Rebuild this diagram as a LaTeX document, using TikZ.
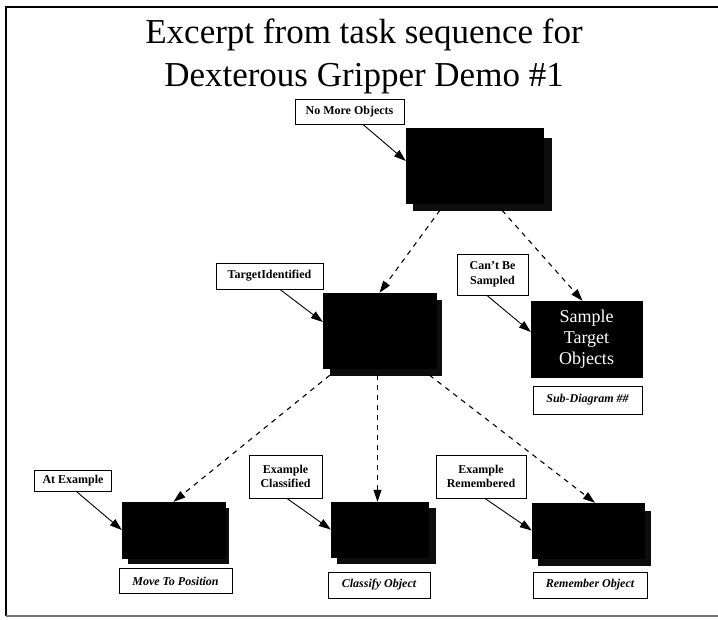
\documentclass[tikz,border=0pt]{standalone}
\usepackage{fontspec}
\setmainfont{Liberation Serif}
\usetikzlibrary{arrows.meta,calc}

\tikzset{
  task/.style={fill=black, draw=black, inner sep=0pt},
  taskback/.style={fill=black!95, draw=black!95, inner sep=0pt},
  cond/.style={draw=black, line width=0.9pt, fill=white, inner sep=0pt, align=center,
    font=\fontsize{12}{14.5}\selectfont\bfseries},
  caption/.style={draw=black, line width=0.9pt, fill=white, inner sep=0pt,
    font=\fontsize{12}{14}\selectfont\bfseries\itshape},
  trigger/.style={line width=0.9pt, -{Triangle[length=12pt,width=8pt]}},
  seq/.style={line width=1.1pt, dash pattern=on 5pt off 5pt, -{Triangle[length=12pt,width=8pt]}},
  title/.style={font=\fontsize{35}{40}\selectfont, anchor=base, inner sep=0pt}
}

\begin{document}
\begin{tikzpicture}[x=1pt, y=-1pt]
  \useasboundingbox (0,0) rectangle (718,619);

  % frame
  \draw[line width=1.8pt] (718,7) -- (6,7) -- (6,616);
  \draw[line width=1.2pt, black!55] (6,616) -- (718,616);

  % title
  \node[title] (t1) at (364,43) {Excerpt from task sequence for};
  \node[title] (t2) at (364,86) {Dexterous Gripper Demo \#1};

  % top task (stacked)
  \node[taskback, minimum width=138pt, minimum height=72pt] (topb) at (482,174) {};
  \node[task, minimum width=137pt, minimum height=75pt] (topf) at (474.5,165.5) {};

  % middle task (stacked)
  \node[taskback, minimum width=111pt, minimum height=75pt] (midb) at (385.5,337.5) {};
  \node[task, minimum width=113pt, minimum height=75pt] (midf) at (379.5,330.5) {};

  % sub-diagram task
  \node[task, minimum width=111pt, minimum height=76pt, text=white, align=center,
        font=\fontsize{18}{21}\selectfont] (sample) at (586.5,339) {Sample\\Target\\Objects};

  % bottom tasks (stacked)
  \node[taskback, minimum width=100pt, minimum height=55pt] (blb) at (178,535.5) {};
  \node[task, minimum width=103pt, minimum height=56pt] (blf) at (173.5,530) {};
  \node[taskback, minimum width=98pt, minimum height=55pt] (bmb) at (386,535.5) {};
  \node[task, minimum width=97pt, minimum height=55pt] (bmf) at (379.5,529.5) {};
  \node[taskback, minimum width=112pt, minimum height=54pt] (brb) at (594,538) {};
  \node[task, minimum width=112pt, minimum height=55pt] (brf) at (588,530.5) {};

  % condition labels
  \node[cond, minimum width=109pt, minimum height=25pt] (nomore) at (349.5,111.5) {No More Objects};
  \node[cond, minimum width=107pt, minimum height=26pt] (target) at (269.5,276) {TargetIdentified};
  \node[cond, minimum width=71pt, minimum height=41pt] (cantbe) at (492.5,274.5) {Can't Be\\Sampled};
  \node[cond, minimum width=77pt, minimum height=21pt] (atex) at (73,481) {At Example};
  \node[cond, minimum width=73pt, minimum height=43pt] (exclass) at (285.5,476.5) {Example\\Classified};
  \node[cond, minimum width=90pt, minimum height=43pt] (exrem) at (481,476.5) {Example\\Remembered};

  % captions
  \node[caption, minimum width=109pt, minimum height=28pt] (subdiag) at (587.5,400) {Sub-Diagram \#\#};
  \node[caption, minimum width=113pt, minimum height=25pt] (movepos) at (175.5,581) {Move To Position};
  \node[caption, minimum width=102pt, minimum height=26pt] (classify) at (379,585) {Classify Object};
  \node[caption, minimum width=114pt, minimum height=26pt] (remember) at (590,585) {Remember Object};

  % triggering conditions
  \draw[trigger] ([xshift=13.5pt]nomore.south) -- ([yshift=4.5pt]topf.west);
  \draw[trigger] ([xshift=10.5pt]target.south) -- ([yshift=8.5pt]midf.west);
  \draw[trigger] ([xshift=-5.5pt]cantbe.south) -- ([yshift=7pt]sample.west);
  \draw[trigger] ([xshift=4pt]atex.south) -- (blf.west);
  \draw[trigger] ([xshift=1.5pt]exclass.south) -- (bmf.west);
  \draw[trigger] ([xshift=4pt]exrem.south) -- (brf.west);

  % task sequence
  \draw[seq] ([xshift=-42pt]topb.south) -- (midf.north);
  \draw[seq] ([xshift=20pt]topb.south) -- ([xshift=-4pt]sample.north);
  \draw[seq] (midb.south west) -- (blf.north);
  \draw[seq] ([xshift=-8pt]midb.south) -- ([xshift=-2pt]bmf.north);
  \draw[seq] ([xshift=44pt]midb.south) -- ([xshift=7pt]brf.north);
\end{tikzpicture}
\end{document}
